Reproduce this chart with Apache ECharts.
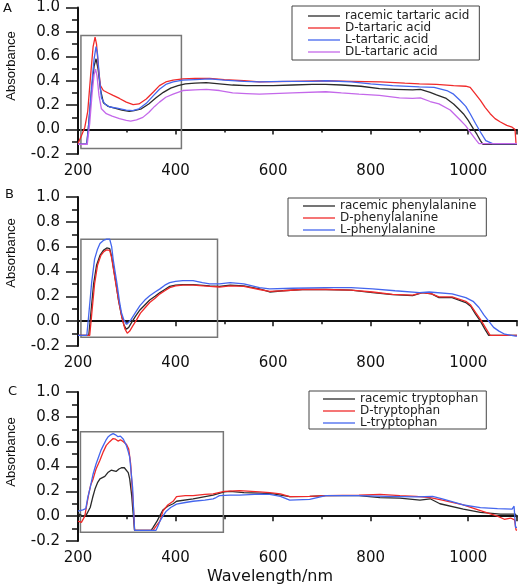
<!DOCTYPE html>
<html><head><meta charset="utf-8">
<script src="https://cdn.jsdelivr.net/npm/echarts@6/dist/echarts.min.js"></script>
<style>html,body{margin:0;padding:0;background:#fff}#c{width:520px;height:587px}</style>
</head><body><div id="c"></div>
<script>
// ---------- Axis ticks ----------
const xTicks = [200, 400, 600, 800, 1000];
const yTicks = [-0.2, 0.0, 0.2, 0.4, 0.6, 0.8, 1.0];

// ---------- Panel A: tartaric acid ----------
const tartRacemicWl  = [200,218,222,228,233,237,241,246,252,262,275,290,305,315,330,345,360,375,390,405,420,440,463,490,517,545,572,600,640,680,708,740,780,818,850,886,902,922,935,955,970,980,990,1000,1010,1018,1025,1030,1100];
const tartRacemicAbs = [-0.12,-0.12,0.05,0.33,0.52,0.58,0.50,0.33,0.22,0.19,0.175,0.16,0.15,0.155,0.17,0.21,0.26,0.305,0.34,0.36,0.375,0.38,0.385,0.375,0.365,0.36,0.36,0.36,0.365,0.37,0.37,0.365,0.355,0.335,0.33,0.325,0.33,0.305,0.285,0.255,0.21,0.17,0.13,0.075,0.01,-0.04,-0.09,-0.12,-0.12];
const tartDWl  = [200,207,214,220,226,231,235,238,242,246,252,262,272,285,299,313,325,340,355,367,380,395,415,440,470,500,540,572,640,708,760,820,870,900,935,970,995,1004,1015,1025,1035,1045,1055,1066,1079,1090,1096,1098,1100];
const tartDAbs = [-0.115,-0.05,0.02,0.15,0.45,0.68,0.757,0.70,0.50,0.36,0.32,0.30,0.28,0.255,0.225,0.205,0.21,0.25,0.31,0.36,0.39,0.405,0.415,0.42,0.42,0.41,0.40,0.39,0.395,0.40,0.395,0.39,0.38,0.375,0.37,0.36,0.355,0.345,0.29,0.24,0.18,0.13,0.09,0.062,0.035,0.02,0.0,-0.115,-0.115];
const tartLWl  = [200,218,222,228,233,237,240,244,248,255,265,280,299,312,325,340,355,367,380,395,415,440,470,500,540,572,620,680,708,760,800,845,900,930,956,970,983,995,1004,1015,1025,1036,1050,1100];
const tartLAbs = [-0.12,-0.12,0.05,0.36,0.58,0.68,0.62,0.42,0.26,0.21,0.185,0.175,0.16,0.155,0.17,0.215,0.28,0.33,0.37,0.39,0.405,0.41,0.415,0.405,0.395,0.39,0.395,0.395,0.40,0.39,0.375,0.36,0.35,0.345,0.32,0.29,0.24,0.19,0.13,0.05,-0.02,-0.09,-0.115,-0.115];
const tartDLWl  = [200,219,224,229,233,236,239,243,248,258,270,285,299,308,320,333,345,357,367,380,395,415,440,463,490,517,545,572,640,708,740,776,818,859,886,902,922,940,963,983,995,1004,1015,1022,1100];
const tartDLAbs = [-0.12,-0.12,0.05,0.30,0.45,0.495,0.44,0.28,0.17,0.13,0.11,0.09,0.075,0.07,0.08,0.10,0.14,0.19,0.225,0.265,0.29,0.32,0.325,0.33,0.32,0.30,0.295,0.29,0.30,0.31,0.30,0.29,0.28,0.26,0.255,0.26,0.23,0.21,0.16,0.08,0.03,-0.02,-0.08,-0.115,-0.115];

// ---------- Panel B: phenylalanine ----------
const pheRacemicWl  = [200,222,226,232,238,245,252,259,265,269,273,278,283,289,294,299,304,310,318,327,337,347,358,368,378,388,400,415,436,470,490,512,540,572,593,620,660,708,760,804,845,886,906,925,940,967,995,1005,1015,1025,1035,1042,1100];
const pheRacemicAbs = [-0.115,-0.115,0.05,0.30,0.45,0.53,0.57,0.59,0.585,0.52,0.42,0.30,0.17,0.05,-0.03,-0.065,-0.05,-0.01,0.04,0.09,0.13,0.17,0.20,0.23,0.255,0.28,0.29,0.295,0.295,0.285,0.28,0.29,0.285,0.26,0.235,0.245,0.255,0.255,0.25,0.23,0.213,0.205,0.23,0.22,0.19,0.19,0.15,0.12,0.057,0.0,-0.07,-0.115,-0.115];
const pheDWl  = [200,224,228,234,240,247,253,259,265,269,273,278,284,290,296,301,306,312,320,328,338,347,358,368,378,388,400,415,436,470,490,512,540,572,593,620,660,708,760,804,845,886,906,925,940,967,995,1005,1015,1025,1035,1045,1100];
const pheDAbs = [-0.115,-0.115,0.05,0.30,0.45,0.53,0.56,0.575,0.57,0.51,0.41,0.29,0.15,0.03,-0.06,-0.097,-0.08,-0.04,0.01,0.065,0.11,0.15,0.185,0.22,0.245,0.27,0.285,0.29,0.29,0.28,0.275,0.285,0.28,0.255,0.24,0.245,0.255,0.255,0.25,0.235,0.215,0.21,0.23,0.22,0.195,0.195,0.16,0.13,0.07,0.015,-0.05,-0.115,-0.115];
const pheLWl  = [200,218,222,228,234,240,245,252,259,265,269,272,276,280,285,289,294,299,304,309,318,327,337,347,358,368,378,388,400,415,436,455,470,490,512,540,572,593,640,708,760,804,850,900,920,967,995,1010,1022,1032,1042,1052,1063,1075,1097,1100];
const pheLAbs = [-0.115,-0.115,0.05,0.31,0.50,0.58,0.625,0.65,0.66,0.66,0.60,0.50,0.40,0.30,0.16,0.07,0.01,-0.025,-0.01,0.015,0.07,0.125,0.17,0.205,0.235,0.26,0.29,0.31,0.32,0.327,0.327,0.31,0.30,0.30,0.31,0.30,0.27,0.26,0.265,0.27,0.27,0.26,0.245,0.23,0.235,0.22,0.19,0.16,0.11,0.05,0.0,-0.05,-0.08,-0.105,-0.12,-0.12];

// ---------- Panel C: tryptophan ----------
const trpRacemicWl  = [200,210,217,225,230,235,240,245,255,262,268,272,278,284,289,295,299,303,306,310,312,316,350,354,362,374,384,395,402,436,477,500,512,540,572,600,634,675,708,776,819,860,901,922,942,990,1025,1066,1097,1100];
const trpRacemicAbs = [0.02,0.0,0.01,0.07,0.15,0.22,0.27,0.30,0.32,0.354,0.37,0.354,0.36,0.38,0.39,0.39,0.385,0.35,0.30,0.17,0.07,-0.114,-0.114,-0.09,-0.04,0.05,0.08,0.10,0.12,0.14,0.17,0.195,0.20,0.19,0.185,0.18,0.157,0.16,0.165,0.165,0.15,0.145,0.13,0.14,0.10,0.057,0.03,0.016,0.016,-0.01];
const trpDWl  = [200,207,214,217,222,226,231,237,245,252,258,265,272,277,282,287,293,299,304,308,311,314,316,354,360,368,374,384,395,402,420,436,460,477,500,531,572,593,615,634,675,708,776,819,860,893,922,947,990,1025,1060,1074,1087,1095,1098,1100];
const trpDAbs = [-0.04,-0.05,0.0,0.07,0.18,0.25,0.30,0.38,0.45,0.52,0.57,0.60,0.625,0.62,0.605,0.615,0.60,0.58,0.54,0.42,0.23,0.05,-0.114,-0.114,-0.08,-0.04,0.04,0.09,0.12,0.157,0.165,0.165,0.175,0.18,0.20,0.205,0.195,0.19,0.18,0.157,0.16,0.165,0.17,0.175,0.165,0.16,0.15,0.13,0.09,0.045,0.0,-0.025,-0.015,-0.03,-0.11,-0.114];
const trpLWl  = [200,204,210,216,220,225,231,237,242,247,252,257,262,267,272,277,282,287,293,299,303,306,309,312,314,316,360,364,368,374,381,390,402,420,436,460,477,483,490,512,531,572,593,615,634,675,708,776,831,893,927,947,990,1025,1060,1090,1094,1097,1100];
const trpLAbs = [0.04,0.04,0.05,0.06,0.15,0.23,0.34,0.42,0.475,0.53,0.57,0.61,0.64,0.655,0.665,0.655,0.64,0.645,0.62,0.57,0.52,0.475,0.35,0.23,0.05,-0.114,-0.114,-0.08,-0.04,0.0,0.04,0.07,0.097,0.11,0.12,0.13,0.14,0.15,0.165,0.17,0.17,0.177,0.175,0.16,0.13,0.135,0.165,0.165,0.16,0.155,0.16,0.14,0.09,0.068,0.06,0.057,0.08,-0.09,-0.09];

// ---------- Inset boxes (wavelength from/to, absorbance top/bottom) ----------
const boxA = [206, 412, 0.77, -0.155];
const boxB = [206, 486, 0.66, -0.13];
const boxC = [205, 498, 0.68, -0.13];

// ---------- Names ----------
const namesA = ['racemic tartaric acid', 'D-tartaric acid', 'L-tartaric acid', 'DL-tartaric acid'];
const namesB = ['racemic phenylalanine', 'D-phenylalanine', 'L-phenylalanine'];
const namesC = ['racemic tryptophan', 'D-tryptophan', 'L-tryptophan'];

const COL = { k: '#2a2a2a', r: '#f02a2a', b: '#4466ee', p: '#c468ea' };
const FONT = 'DejaVu Sans';

function zip(a, b) { return a.map((v, i) => [v, b[i]]); }

const grids = [
  { left: 78, width: 439, top: 6, height: 148 },
  { left: 78, width: 439, top: 197, height: 149 },
  { left: 78, width: 439, top: 392, height: 149 }
];

function xAx(i) {
  return {
    gridIndex: i, type: 'value', min: 200, max: 1100, interval: 200,
    axisLine: { show: true, lineStyle: { color: '#111', width: 2 } },
    axisTick: { show: true, inside: false, length: 5, lineStyle: { color: '#111', width: 1.5 } },
    minorTick: { show: true, splitNumber: 2, length: 3, lineStyle: { color: '#111', width: 1.5 } },
    splitLine: { show: false }, minorSplitLine: { show: false },
    axisLabel: { fontFamily: FONT, fontSize: 15, color: '#111', margin: 10,
      customValues: xTicks, formatter: v => String(v) }
  };
}
function yAx(i) {
  return {
    gridIndex: i, type: 'value', min: -0.2, max: 1.0, interval: 0.2,
    axisLine: { show: true, onZero: false, lineStyle: { color: '#111', width: 2 } },
    axisTick: { show: true, inside: false, length: 12, lineStyle: { color: '#111', width: 1.5 } },
    minorTick: { show: true, splitNumber: 2, length: 6, lineStyle: { color: '#111', width: 1.5 } },
    splitLine: { show: false }, minorSplitLine: { show: false },
    axisLabel: { fontFamily: FONT, fontSize: 15, color: '#111', margin: 18,
      formatter: v => (Math.abs(v) < 1e-9 ? 0 : v).toFixed(1) }
  };
}
function line(name, i, wl, ab, color, box) {
  const s = {
    name, type: 'line', xAxisIndex: i, yAxisIndex: i,
    data: zip(wl, ab), symbol: 'none', showSymbol: false, smooth: false,
    lineStyle: { color, width: 1.3 }, itemStyle: { color }, animation: false
  };
  if (box) {
    s.markArea = {
      silent: true,
      itemStyle: { color: 'rgba(0,0,0,0)', borderColor: '#777', borderWidth: 1.5 },
      data: [[{ xAxis: box[0], yAxis: box[2] }, { xAxis: box[1], yAxis: box[3] }]]
    };
  }
  return s;
}
function legend(data, left, top, padding, itemH) {
  return {
    data: data.map(n => ({ name: n, icon: 'rect' })),
    orient: 'vertical', left, top, padding,
    itemWidth: 32, itemHeight: 1.3, itemGap: 0,
    borderColor: '#444', borderWidth: 1,
    textStyle: { fontFamily: FONT, fontSize: 12, color: '#222', lineHeight: itemH, height: itemH }
  };
}

const option = {
  animation: false,
  backgroundColor: '#fff',
  grid: grids,
  xAxis: [xAx(0), xAx(1), xAx(2)],
  yAxis: [yAx(0), yAx(1), yAx(2)],
  legend: [
    legend(namesA, 292, 6, [4, 10, 2, 16], 10.5),
    legend(namesB, 288, 198, [2, 10, 0, 15], 11),
    legend(namesC, 309, 391, [2, 8, 0, 14], 11)
  ],
  series: [
    line(namesA[0], 0, tartRacemicWl, tartRacemicAbs, COL.k, boxA),
    line(namesA[1], 0, tartDWl, tartDAbs, COL.r),
    line(namesA[2], 0, tartLWl, tartLAbs, COL.b),
    line(namesA[3], 0, tartDLWl, tartDLAbs, COL.p),
    line(namesB[0], 1, pheRacemicWl, pheRacemicAbs, COL.k, boxB),
    line(namesB[1], 1, pheDWl, pheDAbs, COL.r),
    line(namesB[2], 1, pheLWl, pheLAbs, COL.b),
    line(namesC[0], 2, trpRacemicWl, trpRacemicAbs, COL.k, boxC),
    line(namesC[1], 2, trpDWl, trpDAbs, COL.r),
    line(namesC[2], 2, trpLWl, trpLAbs, COL.b)
  ],
  graphic: [
    { type: 'text', x: 3, y: 2, style: { text: 'A', font: '13px "DejaVu Sans"', fill: '#111' } },
    { type: 'text', x: 5, y: 188, style: { text: 'B', font: '13px "DejaVu Sans"', fill: '#111' } },
    { type: 'text', x: 8, y: 385, style: { text: 'C', font: '13px "DejaVu Sans"', fill: '#111' } },
    { type: 'text', x: 11, y: 66, rotation: Math.PI / 2, style: { text: 'Absorbance', font: '13px "Liberation Sans"', fill: '#111', align: 'center', verticalAlign: 'middle' } },
    { type: 'text', x: 11, y: 253, rotation: Math.PI / 2, style: { text: 'Absorbance', font: '13px "Liberation Sans"', fill: '#111', align: 'center', verticalAlign: 'middle' } },
    { type: 'text', x: 11, y: 452, rotation: Math.PI / 2, style: { text: 'Absorbance', font: '13px "Liberation Sans"', fill: '#111', align: 'center', verticalAlign: 'middle' } },
    { type: 'text', x: 270, y: 577, style: { text: 'Wavelength/nm', font: '16px "DejaVu Sans"', fill: '#111', align: 'center', verticalAlign: 'middle' } }
  ]
};

const chart = echarts.init(document.getElementById('c'), null, { renderer: 'canvas' });
chart.setOption(option);
</script>
</body></html>
